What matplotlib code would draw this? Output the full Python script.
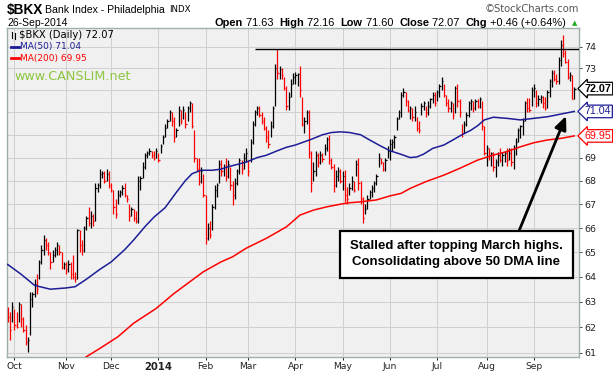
import matplotlib

matplotlib.use("Agg")

import matplotlib.pyplot as plt  # noqa: E402
import numpy as np  # noqa: E402
import pandas as pd  # noqa: E402
from matplotlib.lines import Line2D  # noqa: E402
from matplotlib.patches import Rectangle  # noqa: E402

W, H = 613, 374

# ---- data --------------------------------------------------------------
holidays = ["2013-11-28", "2013-12-25", "2014-01-01", "2014-01-20", "2014-02-17",
            "2014-04-18", "2014-05-26", "2014-07-04", "2014-09-01"]
month_labels = ["Oct", "Nov", "Dec", "2014", "Feb", "Mar", "Apr", "May", "Jun", "Jul", "Aug", "Sep"]
price_ticks = [61, 62, 63, 64, 65, 66, 67, 68, 69, 70, 71, 72, 73, 74]
hidden_ticks = [70, 71, 72]  # covered by the value flags

prev_close = 62.6
high = [
    62.8, 62.6, 63.0,
    # Oct 2013
    62.7, 62.6, 63.0, 62.9, 62.4, 62.1, 61.6, 63.4, 63.4, 63.9, 64.1, 64.7, 65.3, 65.7, 65.6, 65.4,
    65.0, 65.1, 65.2, 65.4, 65.3, 65.0, 64.6,
    # Nov
    64.6, 64.7, 64.6, 64.9, 64.2, 65.95, 65.9, 65.5, 66.1, 66.5, 66.9, 66.7, 66.6, 67.9, 67.9, 68.5,
    68.4, 68.4, 68.5, 68.4,
    # Dec
    67.9, 67.6, 67.2, 67.6, 67.6, 67.8, 67.9, 67.4, 67.0, 66.9, 66.8, 66.7, 68.2, 68.2, 68.8, 69.2,
    69.3, 69.4, 69.3, 69.3, 69.4,
    # Jan 2014
    69.2, 69.6, 70.0, 70.5, 70.7, 71.1, 71.0, 70.8, 70.3, 71.3, 71.1, 71.3, 71.0, 71.3, 71.5, 71.4,
    70.2, 69.0, 69.0, 68.6, 68.3,
    # Feb
    67.4, 66.2, 66.3, 67.0, 67.8, 67.9, 68.9, 68.9, 68.7, 69.0, 68.9, 68.6, 68.0, 68.1, 68.5, 69.0,
    68.9, 69.2, 69.4,
    # Mar
    68.9, 69.8, 70.6, 71.1, 71.3, 71.3, 71.0, 70.8, 70.4, 70.2, 70.6, 71.3, 73.2, 73.88, 73.1, 73.0,
    72.6, 72.2, 71.9, 72.5, 72.8,
    # Apr
    72.85, 72.8, 73.1, 71.7, 70.8, 71.1, 71.1, 69.3, 68.8, 69.3, 69.2, 69.3, 69.2, 69.6, 69.9, 70.0,
    69.0, 68.7, 68.45, 68.6, 68.5,
    # May
    68.4, 68.45, 67.75, 67.9, 68.2, 68.0, 68.9, 69.0, 68.0, 67.3, 67.0, 67.4, 67.6, 67.8, 68.0, 68.3,
    69.2, 69.0, 68.8, 69.0, 69.5,
    # Jun
    69.8, 69.8, 70.0, 70.8, 71.1, 71.9, 72.1, 71.9, 71.55, 71.3, 71.2, 71.3, 70.8, 70.6, 71.4, 71.5,
    71.3, 71.5, 71.65, 71.9, 71.9,
    # Jul
    72.0, 72.3, 72.6, 72.3, 71.8, 71.6, 71.5, 71.4, 72.2, 72.3, 71.6, 70.5, 70.6, 71.0, 71.5, 71.6,
    71.5, 71.6, 71.6, 71.7, 71.5, 70.4,
    # Aug
    69.55, 69.4, 69.25, 69.25, 68.95, 69.25, 69.4, 69.25, 69.3, 69.4, 69.4, 69.4, 69.55, 69.85, 70.3,
    70.45, 70.75, 71.5, 71.65, 71.65, 72.15,
    # Sep
    72.3, 72.0, 71.8, 71.8, 71.75, 71.7, 72.0, 72.5, 72.9, 72.9, 72.75, 73.5, 74.3, 74.55, 73.85,
    73.45, 72.85, 72.7, 72.16,
]
low = [
    62.2, 61.5, 62.2,
    # Oct 2013
    61.9, 61.95, 62.2, 62.0, 61.8, 61.3, 61.05, 61.7, 62.8, 63.2, 63.3, 63.9, 64.5, 64.9, 65.1, 64.9,
    64.3, 64.6, 64.8, 64.9, 64.9, 64.3, 64.3,
    # Nov
    64.1, 64.2, 63.9, 63.9, 63.8, 63.9, 65.0, 64.9, 65.0, 65.9, 66.1, 66.0, 66.1, 66.3, 67.5, 67.7,
    68.1, 67.9, 68.0, 67.7,
    # Dec
    67.5, 66.6, 66.4, 67.0, 67.3, 67.4, 67.3, 67.1, 66.3, 66.5, 66.3, 66.2, 66.2, 67.6, 68.1, 68.5,
    69.0, 69.1, 69.0, 68.9, 69.0,
    # Jan 2014
    68.8, 69.2, 69.6, 69.9, 70.3, 70.6, 70.4, 69.7, 69.9, 70.4, 70.5, 70.7, 70.3, 70.6, 71.0, 70.3,
    68.8, 68.4, 67.8, 67.9, 67.3,
    # Feb
    65.35, 65.5, 65.6, 65.9, 66.8, 67.3, 67.9, 68.2, 68.2, 68.0, 68.1, 67.6, 66.95, 67.2, 67.8, 68.3,
    68.3, 68.5, 68.8,
    # Mar
    68.2, 68.8, 69.6, 70.4, 70.9, 70.8, 70.5, 70.2, 69.7, 69.4, 69.9, 70.3, 71.3, 72.5, 72.5, 72.5,
    72.0, 71.1, 71.1, 71.7, 72.3,
    # Apr
    72.3, 72.2, 71.7, 70.4, 70.1, 70.5, 69.0, 67.5, 68.0, 68.2, 68.6, 68.7, 68.8, 69.1, 69.3, 68.7,
    68.5, 67.5, 67.75, 68.0, 67.9,
    # May
    67.6, 67.1, 67.0, 67.4, 67.6, 67.5, 68.2, 67.6, 67.0, 66.2, 66.6, 66.8, 67.2, 67.3, 67.5, 67.8,
    68.6, 68.7, 68.4, 68.4, 69.0,
    # Jun
    68.9, 69.3, 69.4, 70.2, 70.7, 70.8, 71.7, 71.3, 71.0, 70.7, 70.6, 70.6, 70.15, 70.1, 70.9, 71.1,
    70.8, 70.9, 71.2, 71.4, 71.3,
    # Jul
    71.5, 71.7, 72.0, 71.7, 71.3, 71.0, 71.0, 70.7, 70.95, 71.25, 70.8, 69.9, 70.1, 70.4, 70.8, 71.1,
    71.0, 71.1, 71.2, 71.2, 70.2, 69.1,
    # Aug
    68.65, 68.9, 68.65, 68.4, 68.15, 68.65, 68.8, 68.65, 68.8, 68.65, 68.9, 68.65, 68.5, 69.1, 69.7,
    69.85, 70.0, 70.6, 71.0, 71.0, 71.3,
    # Sep
    71.7, 71.25, 71.3, 71.4, 71.2, 71.1, 71.2, 71.7, 72.15, 72.4, 72.3, 72.3, 73.1, 73.5, 73.25,
    72.5, 72.4, 71.6, 71.6,
]
close = [
    62.4, 61.9, 62.8,
    # Oct 2013
    62.1, 62.0, 62.9, 62.3, 61.9, 61.4, 61.5, 63.1, 63.3, 63.7, 63.5, 64.6, 65.1, 65.5, 65.3, 65.0,
    64.6, 64.9, 65.1, 65.3, 65.0, 64.4, 64.5,
    # Nov
    64.3, 64.5, 64.1, 64.0, 63.9, 65.9, 65.3, 65.1, 66.0, 66.4, 66.2, 66.5, 66.3, 67.7, 67.8, 68.3,
    68.35, 68.0, 68.3, 67.8,
    # Dec
    67.6, 66.9, 66.6, 67.4, 67.5, 67.7, 67.4, 67.2, 66.5, 66.8, 66.4, 66.3, 68.0, 68.1, 68.6, 69.1,
    69.2, 69.3, 69.1, 69.0, 69.3,
    # Jan 2014
    68.9, 69.5, 69.9, 70.3, 70.6, 71.0, 70.6, 69.9, 70.2, 71.1, 70.6, 71.1, 70.5, 71.2, 71.4, 70.4,
    69.0, 68.5, 68.0, 68.4, 67.4,
    # Feb
    65.6, 66.0, 65.7, 66.9, 67.6, 67.8, 68.7, 68.4, 68.6, 68.2, 68.7, 67.8, 67.4, 67.9, 68.4, 68.9,
    68.5, 69.0, 69.2,
    # Mar
    68.4, 69.7, 70.5, 71.0, 71.2, 70.9, 70.6, 70.3, 69.9, 69.6, 70.4, 71.2, 73.0, 72.8, 72.95, 72.7,
    72.1, 71.3, 71.7, 72.3, 72.6,
    # Apr
    72.7, 72.75, 72.0, 70.5, 70.6, 71.0, 69.2, 67.9, 68.4, 69.1, 68.8, 69.1, 68.95, 69.4, 69.8, 68.9,
    68.6, 67.8, 68.2, 68.4, 68.0,
    # May
    68.2, 67.4, 67.2, 67.7, 68.0, 67.6, 68.7, 67.9, 67.2, 66.4, 66.8, 67.2, 67.5, 67.7, 67.9, 68.2,
    69.0, 68.8, 68.5, 68.9, 69.3,
    # Jun
    69.6, 69.7, 69.9, 70.7, 71.0, 71.8, 71.9, 71.5, 71.1, 71.2, 70.8, 71.0, 70.3, 70.2, 71.3, 71.4,
    71.0, 71.3, 71.6, 71.8, 71.4,
    # Jul
    71.9, 72.2, 72.4, 71.8, 71.4, 71.2, 71.4, 70.9, 72.1, 71.5, 71.0, 70.1, 70.5, 70.9, 71.4, 71.5,
    71.2, 71.5, 71.3, 71.6, 70.4, 69.2,
    # Aug
    69.4, 69.1, 69.2, 68.6, 68.8, 69.1, 68.9, 69.1, 69.2, 68.9, 69.2, 68.8, 69.4, 69.7, 70.2,
    70.4, 70.6, 71.4, 71.2, 71.1, 72.0,
    # Sep
    72.1, 71.4, 71.6, 71.7, 71.4, 71.2, 71.9, 72.4, 72.8, 72.5, 72.4, 73.4, 74.1, 73.7, 73.3,
    72.6, 72.7, 71.61, 72.07,
]

ma50_days = [0, 6, 12, 19, 26, 30, 35, 41, 46, 52, 56, 61, 65, 70, 75, 79, 82, 86, 91, 95, 98, 102,
             106, 111, 115, 120, 124, 128, 135, 140, 144, 148, 152, 157, 161, 166, 170, 175, 179,
             182, 185, 189, 194, 198, 202, 206, 209, 212, 216, 222, 228, 234, 240, 246, 252]
ma50 = [64.5, 64.1, 63.65, 63.5, 63.55, 63.6, 63.9, 64.3, 64.6, 65.1, 65.5, 66.05, 66.45, 66.85,
        67.5, 68.0, 68.3, 68.45, 68.45, 68.5, 68.6, 68.7, 68.8, 69.0, 69.1, 69.3, 69.45, 69.55,
        69.8, 70.0, 70.1, 70.13, 70.1, 70.0, 69.77, 69.5, 69.3, 69.14, 69.0, 69.03, 69.15, 69.4,
        69.55, 69.77, 70.0, 70.2, 70.4, 70.66, 70.78, 70.73, 70.66, 70.73, 70.8, 70.92, 71.04]

ma200_days = [30, 35, 41, 49, 56, 66, 74, 80, 87, 95, 100, 106, 115, 124, 130, 136, 142, 148, 152,
              157, 164, 170, 175, 179, 186, 194, 201, 209, 216, 222, 228, 234, 240, 246, 252]
ma200 = [60.55, 60.85, 61.17, 61.62, 62.15, 62.73, 63.33, 63.73, 64.2, 64.61, 64.81, 65.16, 65.57,
         66.05, 66.54, 66.75, 66.89, 67.0, 67.06, 67.1, 67.18, 67.35, 67.46, 67.67, 67.96, 68.24,
         68.53, 68.89, 69.11, 69.26, 69.47, 69.65, 69.77, 69.84, 69.95]

resistance = 73.88
resistance_start = 110

note_lines = ["Stalled after topping March highs.", "Consolidating above 50 DMA line"]
quote = [("Open", "71.63"), ("High", "72.16"), ("Low", "71.60"), ("Close", "72.07"),
         ("Chg", "+0.46 (+0.64%)")]

# ---- trading calendar ----------------------------------------------------
days = pd.bdate_range("2013-09-26", "2014-09-26")
days = days[~days.isin(pd.to_datetime(holidays))]
n = len(days)
month_start = [i for i in range(1, n) if days[i].month != days[i - 1].month]

# ---- figure ---------------------------------------------------------------
fig = plt.figure(figsize=(W / 100, H / 100), dpi=100, facecolor="white")
L, R, T, B = 7, 579, 28, 357
ax = fig.add_axes([L / W, 1 - B / H, (R - L) / W, (B - T) / H])
ax.set_facecolor("#f0f0f0")

c = np.array(close)
prev = np.concatenate([[prev_close], c[:-1]])
cols = np.where(c >= prev, "black", "#ff0000")
x = np.arange(n)
ax.vlines(x, low, high, colors=cols, lw=0.9, zorder=3)
ax.hlines(c, x, x + 0.55, colors=cols, lw=0.9, zorder=3)

ax.plot(ma50_days, ma50, color="#1c1c96", lw=1.1, zorder=4)
ax.plot(ma200_days, ma200, color="#ff0000", lw=1.1, zorder=4)
ax.hlines(resistance, resistance_start, n + 5, color="black", lw=1.0, zorder=5)

ax.set_yscale("log")
ax.set_ylim(60.84, 74.88)
ax.set_xlim(-0.3, 254.1)
ax.yaxis.set_major_locator(matplotlib.ticker.FixedLocator(price_ticks))
ax.yaxis.set_major_formatter(matplotlib.ticker.FixedFormatter(
    ["" if p in hidden_ticks else str(p) for p in price_ticks]))
ax.yaxis.set_minor_locator(matplotlib.ticker.NullLocator())
ax.yaxis.tick_right()
ax.tick_params(axis="y", length=2, width=0.6, pad=2, labelsize=6.8, colors="#222222",
               labelfontfamily="DejaVu Sans")
ax.set_xticks(month_start)
ax.set_xticklabels(month_labels, fontsize=6.6, fontfamily="DejaVu Sans", color="#222222")
for lbl in ax.get_xticklabels():
    if lbl.get_text() == "2014":
        lbl.set_fontweight("bold")
        lbl.set_fontsize(7.2)
ax.tick_params(axis="x", length=2, width=0.6, pad=1.5)
ax.grid(True, color="#cfcfcf", lw=0.7, zorder=0)
ax.set_axisbelow(True)
for s in ax.spines.values():
    s.set_color("#9db0aa")
    s.set_linewidth(1.0)


def fx(px):
    return px / W


def fy(py):
    return 1 - py / H


# header
fig.text(fx(7), fy(10), "$BKX", fontsize=9.8, fontweight="bold", family="Liberation Sans",
         va="center", ha="left")
fig.text(fx(45), fy(10), "Bank Index - Philadelphia", fontsize=7.6, family="Liberation Sans",
         va="center", ha="left")
fig.text(fx(169), fy(10), "INDX", fontsize=6.2, family="DejaVu Sans", va="center", ha="left")
fig.text(fx(7), fy(22.5), "26-Sep-2014", fontsize=7.5, family="Liberation Sans", va="center")
fig.text(fx(579), fy(9), "\u00a9StockCharts.com", fontsize=7.2, family="DejaVu Sans",
         color="#555555", va="center", ha="right")

renderer = fig.canvas.get_renderer()
pieces = []
for k, v in quote:
    pieces.append((k, "bold"))
    pieces.append((" " + v + ("  " if k != "Chg" else ""), "normal"))
texts = []
total = 0.0
for txt, wt in pieces:
    t = fig.text(0, fy(22.5), txt, fontsize=7.9, fontweight=wt, family="Liberation Sans",
                 va="center", ha="left")
    texts.append(t)
    total += t.get_window_extent(renderer).width
xpos = 566 - total
for t in texts:
    t.set_x(fx(xpos))
    xpos += t.get_window_extent(renderer).width
fig.text(fx(575), fy(23), "\u25b2", fontsize=5, color="#22aa22", va="center", ha="center",
         family="DejaVu Sans")

# legend in the plot
for dx, y0, y1 in [(12, 32, 38), (15, 33, 39)]:
    fig.add_artist(Line2D([fx(dx), fx(dx)], [fy(y0), fy(y1)], color="black", lw=0.8))
fig.text(fx(19), fy(35), "$BKX (Daily) 72.07", fontsize=7.2, family="DejaVu Sans", va="center")
fig.add_artist(Line2D([fx(11), fx(19)], [fy(47), fy(47)], color="#1c1c96", lw=2))
fig.text(fx(20), fy(47), "MA(50) 71.04", fontsize=6.5, family="DejaVu Sans", va="center",
         color="#1c1c96")
fig.add_artist(Line2D([fx(11), fx(19)], [fy(58), fy(58)], color="#ff0000", lw=2))
fig.text(fx(20), fy(58), "MA(200) 69.95", fontsize=6.5, family="DejaVu Sans", va="center",
         color="#ff0000")
fig.text(fx(14), fy(77), "www.CANSLIM.net", fontsize=9.2, family="DejaVu Sans", va="center",
         color="#8dc63f")

# right-hand value flags
for val, col, wt in [(close[-1], "black", "bold"), (ma50[-1], "#1c1c96", "normal"),
                     (ma200[-1], "#ff0000", "normal")]:
    ax.annotate(f"{val:.2f}", xy=(1.0, val), xycoords=("axes fraction", "data"),
                xytext=(4.0, 0), textcoords="offset points", fontsize=7.7, fontweight=wt,
                family="Liberation Sans", color=col, va="center", ha="left",
                annotation_clip=False,
                bbox=dict(boxstyle="larrow,pad=0.12", fc="white", ec=col, lw=0.9), zorder=10)

# annotation box and arrow
fig.add_artist(Rectangle((fx(340), fy(278)), fx(573) - fx(340), fy(231) - fy(278),
                         fc="white", ec="black", lw=1.6, zorder=6))
fig.text(fx(456), fy(246), note_lines[0], fontsize=9.5, fontweight="bold",
         family="Liberation Sans", ha="center", va="center", zorder=7)
fig.text(fx(456), fy(262), note_lines[1], fontsize=9.5, fontweight="bold",
         family="Liberation Sans", ha="center", va="center", zorder=7)
ax.annotate("", xy=(fx(566), fy(116)), xycoords="figure fraction",
            xytext=(fx(519), fy(231)), textcoords="figure fraction",
            arrowprops=dict(arrowstyle="-|>,head_length=0.8,head_width=0.35", color="black",
                            lw=2.0, shrinkA=0, shrinkB=0), annotation_clip=False, zorder=8)

fig.savefig("out.png", dpi=100, facecolor="white")
